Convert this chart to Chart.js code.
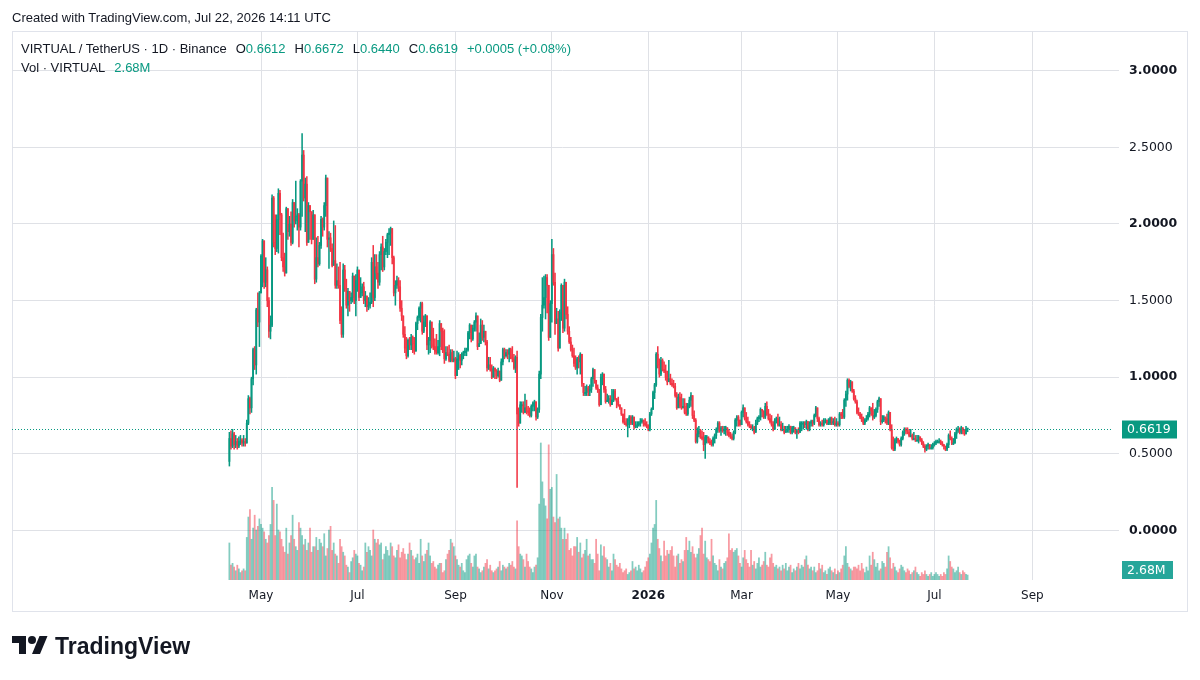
<!DOCTYPE html>
<html>
<head>
<meta charset="utf-8">
<title>VIRTUAL / TetherUS 1D</title>
<script src="https://cdn.jsdelivr.net/npm/chart.js@4.4.1/dist/chart.umd.min.js"></script>
<style>
  body { margin: 0; background: #fff; }
  #wrap { position: relative; width: 1200px; height: 680px; font-family: 'Liberation Sans', Arial, sans-serif; color: #131722; }
  #chart { position: absolute; left: 0; top: 0; }
  .txt { position: absolute; font-size: 13px; line-height: 16px; white-space: nowrap; }
  .up { color: #089981; }
  .gap { margin-left: 9px; }
  #logo { position: absolute; left: 12px; top: 632px; display: flex; align-items: center; }
  #logo span { font-weight: bold; font-size: 23px; margin-left: 7px; color: #131722; }
</style>
</head>
<body>
<div id="wrap">
  <canvas id="chart" width="1200" height="680"></canvas>
  <div class="txt" style="left:12px;top:10px">Created with TradingView.com, Jul 22, 2026 14:11 UTC</div>
  <div class="txt" style="left:21px;top:41px">VIRTUAL / TetherUS · 1D · Binance<span class="gap">O</span><span class="up">0.6612</span><span class="gap">H</span><span class="up">0.6672</span><span class="gap">L</span><span class="up">0.6440</span><span class="gap">C</span><span class="up">0.6619</span><span class="gap up">+0.0005 (+0.08%)</span></div>
  <div class="txt" style="left:21px;top:60px">Vol · VIRTUAL<span class="gap up">2.68M</span></div>
  <div id="logo"><svg width="36" height="28" viewBox="0 0 36 28"><path fill="#131722" d="M14 22H7V11H0V4h14v18zM28 22h-8l7.5-18h8L28 22z"/><circle fill="#131722" cx="20" cy="8" r="4"/></svg><span>TradingView</span></div>
</div>
<script>
// daily candles from 11 Apr 2025 to 22 Jul 2026, x = days since 1 May 2025
const firstDay = -20;
const firstOpen = 0.45;

const closes = [
  0.60,0.55,0.63,0.56,0.58,0.55,0.58,0.59,0.57,0.58,0.57,0.70,0.86,0.80,0.99,1.18,1.08,1.44,1.36,1.55,
  1.79,1.89,1.62,1.70,1.50,1.30,1.34,2.17,1.88,1.84,2.03,2.20,2.06,1.78,1.72,1.68,2.10,1.95,2.00,1.88,
  2.14,2.02,2.05,2.06,1.98,2.28,2.45,2.17,2.26,1.88,2.12,2.08,1.90,2.06,
  1.64,1.78,1.74,1.86,2.03,1.98,2.12,2.30,1.90,1.91,1.84,1.73,1.76,1.60,1.63,1.60,1.37,1.28,1.70,1.58,
  1.47,1.56,1.50,1.52,1.66,1.50,1.63,1.70,1.52,1.55,1.59,1.50,1.53,1.46,1.47,1.49,1.75,1.52,1.72,1.68,
  1.62,1.80,1.85,1.72,1.82,1.88,1.93,1.94,1.97,1.78,1.55,1.60,1.63,1.59,1.45,1.40,1.28,
  1.19,1.14,1.24,1.21,1.26,1.22,1.17,1.35,1.39,1.45,1.48,1.30,1.36,1.40,1.21,1.24,1.36,1.21,1.20,1.17,
  1.16,1.20,1.35,1.30,1.17,1.12,1.16,1.15,1.11,1.16,1.11,1.12,1.01,1.12,1.14,1.11,1.15,1.16,1.17,1.18,
  1.29,1.34,1.25,1.32,1.36,1.40,1.20,1.22,1.34,1.26,1.30,1.23,1.06,1.08,1.05,1.00,1.06,
  1.04,1.01,1.04,0.98,1.10,1.18,1.14,1.16,1.15,1.18,1.13,1.12,1.06,1.13,0.76,0.70,0.82,0.82,0.77,0.80,
  0.78,0.77,0.75,0.81,0.83,0.84,0.74,0.79,1.02,1.39,1.47,1.52,1.65,1.60,1.26,1.48,1.80,1.62,1.35,1.38,
  1.19,1.42,1.60,1.32,1.62,1.41,1.30,1.23,1.18,1.14,1.09,1.06,1.12,1.10,1.15,0.96,0.90,
  0.90,0.93,0.91,0.92,0.99,1.05,0.98,0.93,0.92,0.82,1.00,1.02,0.92,0.84,0.85,0.86,0.82,0.85,0.91,0.86,
  0.84,0.82,0.80,0.76,0.71,0.70,0.69,0.72,0.74,0.70,0.74,0.68,0.68,0.69,0.70,0.71,0.72,0.70,0.69,0.68,
  0.66,0.76,0.79,0.90,0.95,1.15,1.08,1.02,1.11,1.05,1.04,1.00,0.97,0.99,0.96,0.95,0.94,
  0.88,0.80,0.87,0.81,0.80,0.81,0.77,0.76,0.82,0.85,0.88,0.75,0.72,0.58,0.63,0.65,0.61,0.60,0.56,0.61,
  0.61,0.58,0.57,0.56,0.60,0.62,0.66,0.70,0.65,0.67,0.65,0.66,0.67,0.64,0.62,0.61,0.60,0.64,0.72,0.74,
  0.72,0.69,0.77,0.80,0.73,0.71,0.69,0.68,0.67,0.67,0.64,0.70,0.73,0.74,0.79,0.78,0.74,
  0.81,0.76,0.73,0.71,0.69,0.66,0.72,0.73,0.69,0.69,0.66,0.66,0.64,0.65,0.66,0.68,0.64,0.67,0.67,0.64,
  0.65,0.64,0.70,0.70,0.70,0.69,0.71,0.66,0.70,0.71,0.70,0.75,0.80,0.73,0.69,0.70,0.69,0.71,0.72,0.70,
  0.70,0.73,0.70,0.71,0.69,0.70,0.69,0.76,0.75,0.74,0.85,0.89,0.98,0.94,0.97,0.91,0.86,
  0.84,0.77,0.76,0.74,0.72,0.70,0.72,0.73,0.76,0.80,0.78,0.74,0.75,0.79,0.84,0.86,0.71,0.72,0.74,0.73,
  0.70,0.77,0.66,0.54,0.53,0.59,0.60,0.58,0.56,0.60,0.64,0.66,0.65,0.64,0.62,0.62,0.60,0.60,0.59,0.59,
  0.61,0.59,0.57,0.55,0.53,0.55,0.56,0.54,0.54,0.56,0.57,0.58,0.58,0.58,0.57,0.56,0.55,0.53,0.56,0.62,
  0.60,0.57,0.57,0.63,0.66,0.66,0.64,0.67,0.65,0.63,0.6612,0.6619
];

const highs = [
  0.64,0.65,0.66,0.64,0.62,0.60,0.61,0.62,0.60,0.62,0.60,0.72,0.88,0.87,1.00,1.19,1.20,1.45,1.55,1.56,
  1.80,1.90,1.86,1.78,1.72,1.52,1.40,2.19,2.18,2.06,2.06,2.23,2.22,2.07,1.94,1.81,2.11,2.10,2.05,2.08,
  2.16,2.13,2.28,2.10,2.07,2.29,2.59,2.48,2.30,2.31,2.14,2.12,2.08,2.09,
  1.98,1.91,1.92,1.88,2.05,2.04,2.14,2.32,2.30,1.95,1.94,1.87,2.02,1.99,1.74,1.72,1.75,1.46,1.74,1.73,
  1.64,1.58,1.54,1.55,1.68,1.66,1.67,1.72,1.70,1.65,1.61,1.62,1.56,1.52,1.52,1.55,1.78,1.86,1.80,1.80,
  1.75,1.82,1.87,1.92,1.84,1.90,1.94,1.97,1.98,1.97,1.79,1.63,1.66,1.65,1.63,1.50,1.40,
  1.33,1.26,1.25,1.26,1.28,1.27,1.26,1.36,1.40,1.46,1.49,1.49,1.40,1.41,1.39,1.26,1.37,1.36,1.32,1.25,
  1.28,1.24,1.37,1.33,1.32,1.31,1.20,1.20,1.21,1.18,1.18,1.17,1.13,1.17,1.16,1.15,1.16,1.17,1.19,1.19,
  1.30,1.35,1.34,1.34,1.37,1.42,1.40,1.29,1.38,1.37,1.34,1.30,1.24,1.13,1.13,1.08,1.07,
  1.06,1.05,1.06,1.04,1.12,1.19,1.19,1.18,1.18,1.19,1.19,1.20,1.15,1.14,1.17,0.80,0.84,0.84,0.84,0.89,
  0.85,0.81,0.80,0.82,0.84,0.85,0.82,0.80,1.04,1.41,1.65,1.66,1.67,1.67,1.56,1.50,1.90,1.84,1.68,1.45,
  1.43,1.44,1.61,1.50,1.64,1.49,1.46,1.33,1.26,1.21,1.19,1.14,1.13,1.14,1.16,1.04,0.95,
  0.94,0.95,0.94,0.95,1.00,1.06,1.05,0.98,0.95,0.92,1.02,1.03,1.02,0.94,0.89,0.88,0.88,0.92,0.92,0.92,
  0.86,0.87,0.82,0.80,0.76,0.79,0.73,0.73,0.75,0.75,0.75,0.73,0.71,0.71,0.71,0.73,0.73,0.72,0.73,0.71,
  0.69,0.77,0.80,0.91,0.96,1.16,1.20,1.12,1.13,1.12,1.10,1.08,1.04,1.11,1.02,0.99,0.98,
  0.96,0.90,0.89,0.90,0.89,0.86,0.86,0.83,0.83,0.87,0.90,0.86,0.78,0.73,0.67,0.68,0.66,0.65,0.64,0.62,
  0.62,0.61,0.60,0.59,0.61,0.63,0.67,0.71,0.71,0.68,0.68,0.68,0.68,0.67,0.66,0.64,0.63,0.65,0.73,0.75,
  0.75,0.72,0.78,0.82,0.80,0.77,0.74,0.71,0.69,0.69,0.68,0.72,0.74,0.75,0.80,0.79,0.78,
  0.83,0.84,0.79,0.76,0.75,0.71,0.73,0.74,0.76,0.74,0.71,0.70,0.68,0.68,0.68,0.69,0.68,0.68,0.68,0.67,
  0.66,0.67,0.71,0.71,0.71,0.71,0.72,0.71,0.71,0.72,0.72,0.76,0.81,0.80,0.74,0.71,0.72,0.73,0.73,0.72,
  0.73,0.74,0.74,0.73,0.74,0.73,0.71,0.77,0.77,0.79,0.86,0.91,0.99,0.99,0.98,0.96,0.92,
  0.88,0.85,0.80,0.77,0.76,0.74,0.73,0.75,0.77,0.81,0.80,0.83,0.79,0.80,0.85,0.87,0.86,0.75,0.75,0.74,
  0.76,0.78,0.77,0.69,0.61,0.60,0.61,0.60,0.59,0.61,0.65,0.67,0.67,0.67,0.66,0.66,0.63,0.64,0.62,0.62,
  0.62,0.61,0.60,0.58,0.56,0.56,0.57,0.56,0.56,0.57,0.58,0.59,0.59,0.60,0.59,0.58,0.56,0.55,0.57,0.63,
  0.65,0.61,0.60,0.64,0.67,0.68,0.67,0.68,0.67,0.66,0.68,0.6672
];

const lows = [
  0.42,0.53,0.54,0.53,0.54,0.53,0.54,0.56,0.55,0.55,0.55,0.57,0.69,0.76,0.77,0.95,1.05,1.02,1.33,1.20,
  1.55,1.59,1.58,1.59,1.46,1.26,1.25,1.33,1.85,1.80,1.82,1.81,1.93,1.76,1.69,1.66,1.68,1.90,1.92,1.86,
  1.87,1.98,2.00,1.96,1.85,1.96,2.05,2.15,1.95,1.86,1.94,1.90,1.87,1.90,
  1.61,1.62,1.72,1.73,1.84,1.92,1.96,2.05,1.85,1.71,1.82,1.72,1.74,1.58,1.58,1.58,1.35,1.26,1.26,1.56,
  1.45,1.40,1.43,1.48,1.49,1.48,1.40,1.56,1.50,1.53,1.53,1.48,1.46,1.43,1.44,1.45,1.48,1.46,1.50,1.64,
  1.58,1.60,1.70,1.69,1.70,1.80,1.78,1.80,1.86,1.74,1.53,1.47,1.58,1.56,1.43,1.37,1.26,
  1.16,1.12,1.13,1.18,1.18,1.16,1.15,1.17,1.31,1.37,1.36,1.28,1.29,1.33,1.18,1.15,1.16,1.19,1.18,1.15,
  1.15,1.15,1.14,1.18,1.16,1.09,1.11,1.14,1.10,1.10,1.10,1.10,0.99,1.01,1.05,1.06,1.08,1.12,1.14,1.14,
  1.17,1.25,1.23,1.24,1.30,1.30,1.18,1.20,1.22,1.24,1.23,1.21,1.04,1.05,1.04,0.99,1.00,
  0.99,0.99,1.00,0.97,0.98,1.08,1.12,1.13,1.12,1.10,1.12,1.10,1.05,1.03,0.28,0.68,0.70,0.77,0.76,0.77,
  0.76,0.75,0.74,0.74,0.78,0.78,0.72,0.73,0.77,0.99,1.30,1.45,1.38,1.42,1.24,1.35,1.36,1.60,1.28,1.36,
  1.17,1.19,1.37,1.29,1.30,1.38,1.28,1.22,1.17,1.13,1.07,1.05,1.02,1.06,1.02,0.94,0.88,
  0.88,0.88,0.88,0.88,0.90,0.94,0.96,0.92,0.90,0.81,0.82,0.95,0.90,0.83,0.84,0.83,0.81,0.84,0.84,0.85,
  0.80,0.81,0.79,0.75,0.70,0.69,0.68,0.61,0.67,0.69,0.69,0.66,0.67,0.67,0.68,0.68,0.70,0.68,0.68,0.67,
  0.65,0.65,0.75,0.79,0.86,0.94,1.06,1.00,1.01,1.04,1.03,0.98,0.95,0.98,0.95,0.94,0.93,
  0.87,0.79,0.81,0.80,0.79,0.80,0.76,0.75,0.75,0.80,0.81,0.73,0.71,0.57,0.57,0.61,0.60,0.59,0.52,0.47,
  0.57,0.57,0.56,0.55,0.55,0.57,0.60,0.64,0.64,0.62,0.64,0.63,0.62,0.62,0.61,0.60,0.59,0.59,0.63,0.68,
  0.68,0.68,0.69,0.74,0.72,0.70,0.68,0.67,0.66,0.65,0.63,0.64,0.69,0.71,0.72,0.74,0.73,
  0.73,0.75,0.72,0.70,0.68,0.65,0.66,0.70,0.68,0.68,0.65,0.65,0.63,0.64,0.64,0.64,0.63,0.63,0.64,0.63,
  0.60,0.63,0.64,0.65,0.66,0.67,0.66,0.65,0.65,0.68,0.68,0.69,0.74,0.71,0.68,0.68,0.68,0.68,0.70,0.69,
  0.69,0.69,0.69,0.69,0.68,0.68,0.68,0.68,0.73,0.73,0.73,0.81,0.85,0.93,0.91,0.90,0.85,
  0.83,0.76,0.75,0.73,0.71,0.69,0.69,0.71,0.72,0.74,0.75,0.72,0.73,0.74,0.77,0.81,0.69,0.70,0.71,0.70,
  0.69,0.69,0.65,0.53,0.52,0.52,0.57,0.57,0.55,0.55,0.59,0.62,0.63,0.63,0.61,0.61,0.59,0.59,0.58,0.58,
  0.57,0.58,0.56,0.54,0.51,0.52,0.53,0.53,0.53,0.53,0.55,0.56,0.57,0.57,0.56,0.55,0.53,0.52,0.52,0.54,
  0.59,0.56,0.56,0.57,0.60,0.64,0.63,0.63,0.63,0.62,0.63,0.6440
];

// volume in millions of VIRTUAL
const volumes = [
  20,8,9,7,5,8,6,4,5,6,5,23,34,38,22,28,35,27,29,33,
  30,28,26,22,20,24,30,50,43,24,41,27,26,22,18,15,28,14,20,24,
  35,22,18,16,31,28,24,19,22,16,20,28,15,18,
  18,23,16,22,20,18,25,13,17,27,29,16,20,14,13,9,22,18,15,13,
  8,7,4,10,12,16,14,13,9,8,5,7,20,15,18,16,13,27,22,20,
  22,19,20,11,14,18,16,13,20,18,13,12,16,19,12,15,17,
  14,11,14,20,16,13,11,12,14,9,22,13,10,14,16,20,13,9,10,7,
  6,8,9,9,4,5,11,14,16,22,20,18,13,11,8,7,9,5,4,11,
  13,14,9,7,13,14,7,6,4,5,7,9,11,6,8,5,4,
  5,6,7,10,5,8,7,6,7,9,8,10,7,6,32,18,14,13,11,7,
  14,10,7,6,4,7,8,12,41,74,53,44,40,33,73,49,50,34,31,57,
  33,34,28,22,28,22,25,16,17,13,18,18,23,15,20,12,14,
  16,22,13,14,11,11,9,22,14,5,19,13,18,12,11,7,9,5,14,11,
  8,7,9,6,4,5,6,3,4,5,10,6,7,5,8,6,4,5,7,10,
  12,14,20,28,30,43,22,17,13,10,21,13,16,14,16,18,13,
  7,13,14,9,11,10,16,23,16,21,15,18,14,12,14,17,24,28,14,21,
  12,11,10,22,13,9,8,5,11,7,6,9,10,12,25,16,17,15,16,17,
  13,9,7,12,16,11,9,7,16,8,10,6,9,12,7,8,10,
  15,8,7,12,14,9,7,8,6,7,5,8,6,9,5,7,8,4,6,5,
  7,9,6,8,7,11,13,8,6,7,5,7,4,5,9,6,8,4,5,3,
  6,7,5,4,6,3,5,4,6,8,13,18,9,7,6,5,7,
  7,6,8,5,9,6,4,7,5,13,8,15,11,7,9,5,6,10,9,7,
  15,18,12,6,9,7,5,4,6,8,7,5,4,6,5,3,4,5,7,4,
  3,2,4,3,5,3,2,3,4,2,3,4,3,2,3,2,4,3,6,13,
  10,7,6,4,5,7,4,3,5,4,3,2.68
];

const monthTicks = [0, 61, 123, 184, 245, 304, 365, 426, 488];
const monthLabels = ['May', 'Jul', 'Sep', 'Nov', '2026', 'Mar', 'May', 'Jul', 'Sep'];
const priceTicks = [0, 0.5, 1, 1.5, 2, 2.5, 3];
const lastPrice = 0.6619;
const lastVolume = 2.68;

const upColor = '#089981';
const downColor = '#f23645';
const gridColor = '#dfe1e6';

if (closes.length !== highs.length || closes.length !== lows.length || closes.length !== volumes.length) {
    console.warn('length mismatch', closes.length, highs.length, lows.length, volumes.length);
}

const opens = closes.map((c, i) => (i === 0 ? firstOpen : closes[i - 1]));
const days = closes.map((c, i) => firstDay + i);
const isUp = closes.map((c, i) => c >= opens[i]);

// last price line and the two badges on the price scale
const paneDecor = {
    id: 'paneDecor',
    beforeDraw(chart) {
        const c = chart.ctx;
        c.save();
        c.fillStyle = '#fff';
        c.fillRect(0, 0, chart.width, chart.height);
        c.strokeStyle = '#e0e3eb';
        c.lineWidth = 1;
        c.strokeRect(12.5, 31.5, 1175, 580);
        c.restore();
    },
    afterDraw(chart) {
        const c = chart.ctx;
        const a = chart.chartArea;
        const py = Math.round(chart.scales.y.getPixelForValue(lastPrice)) + 0.5;
        c.save();
        c.strokeStyle = upColor;
        c.lineWidth = 1;
        c.setLineDash([1, 2]);
        c.beginPath();
        c.moveTo(a.left, py);
        c.lineTo(a.right, py);
        c.stroke();
        c.setLineDash([]);

        c.font = '12.5px "DejaVu Sans"';
        c.textBaseline = 'middle';
        c.fillStyle = upColor;
        c.fillRect(a.right + 9, py - 9, 55, 18);
        c.fillStyle = '#fff';
        c.fillText(lastPrice.toFixed(4), a.right + 14, py + 0.5);

        let vy = chart.scales.vol.getPixelForValue(lastVolume);
        vy = Math.min(vy, a.bottom - 10);
        c.fillStyle = '#26a69a';
        c.fillRect(a.right + 9, vy - 9, 51, 18);
        c.fillStyle = '#fff';
        c.fillText(lastVolume.toFixed(2) + 'M', a.right + 14, vy + 0.5);
        c.restore();
    }
};

new Chart(document.getElementById('chart'), {
    type: 'bar',
    data: {
        datasets: [
            {
                label: 'body',
                data: days.map((d, i) => ({x: d, y: [opens[i], closes[i]]})),
                backgroundColor: isUp.map(u => (u ? upColor : downColor)),
                barThickness: 1.2,
                minBarLength: 1,
                grouped: false,
                yAxisID: 'y',
                order: 1
            },
            {
                label: 'wick',
                data: days.map((d, i) => ({
                    x: d,
                    y: [Math.min(lows[i], opens[i], closes[i]), Math.max(highs[i], opens[i], closes[i])]
                })),
                backgroundColor: isUp.map(u => (u ? upColor : downColor)),
                barThickness: 0.9,
                grouped: false,
                yAxisID: 'y',
                order: 2
            },
            {
                label: 'volume',
                data: days.map((d, i) => ({x: d, y: volumes[i]})),
                backgroundColor: isUp.map(u => (u ? 'rgba(8,153,129,0.5)' : 'rgba(242,54,69,0.5)')),
                barThickness: 1.1,
                grouped: false,
                yAxisID: 'vol',
                order: 3
            }
        ]
    },
    options: {
        responsive: false,
        animation: false,
        devicePixelRatio: 1,
        layout: {padding: {left: 12, right: 13, top: 31, bottom: 69}},
        plugins: {legend: {display: false}, tooltip: {enabled: false}},
        scales: {
            x: {
                type: 'linear',
                min: -157.52,
                max: 538.98,
                offset: false,
                afterBuildTicks: s => { s.ticks = monthTicks.map(v => ({value: v})); },
                afterFit: s => { s.height = 31; },
                grid: {color: gridColor, drawTicks: false, offset: false},
                border: {display: false},
                ticks: {
                    autoSkip: false,
                    maxRotation: 0,
                    padding: 9,
                    color: '#131722',
                    font: c => ({family: 'DejaVu Sans', size: 12, weight: c.tick && c.tick.value === 245 ? 'bold' : 'normal'}),
                    callback: v => monthLabels[monthTicks.indexOf(v)]
                }
            },
            y: {
                position: 'right',
                min: -0.3238,
                max: 3.2598,
                afterBuildTicks: s => { s.ticks = priceTicks.map(v => ({value: v})); },
                afterFit: s => { s.width = 74; },
                grid: {color: gridColor, tickLength: 6},
                border: {display: false},
                ticks: {
                    padding: 10,
                    color: '#131722',
                    font: c => ({family: 'DejaVu Sans', size: 12.5, weight: c.tick && Number.isInteger(c.tick.value) ? 'bold' : 'normal'}),
                    callback: v => v.toFixed(4)
                }
            },
            vol: {
                display: false,
                min: 0,
                max: 296.5
            }
        }
    },
    plugins: [paneDecor]
});
</script>
</body>
</html>
